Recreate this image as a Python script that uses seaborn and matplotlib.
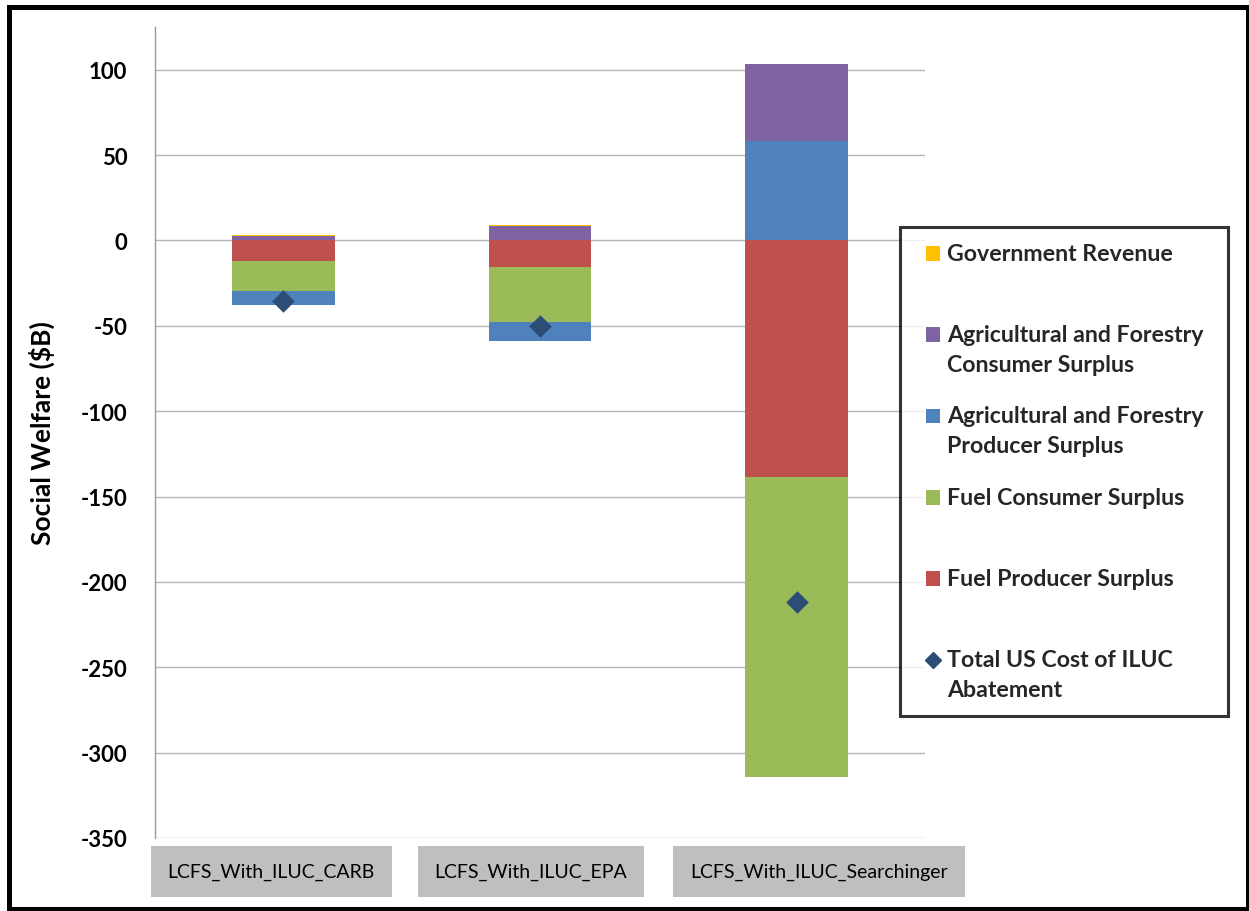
import numpy as np
import pandas as pd
import matplotlib
matplotlib.use("Agg")
import matplotlib.pyplot as plt
import seaborn as sns
from matplotlib.patches import Patch, Rectangle
from matplotlib.lines import Line2D
from matplotlib.artist import Artist
from matplotlib.transforms import ScaledTranslation

# ---------------- data ----------------
scenarios = ["LCFS_With_ILUC_CARB", "LCFS_With_ILUC_EPA", "LCFS_With_ILUC_Searchinger"]
fuel_producer_surplus = [-12.3, -15.7, -138.6]
fuel_consumer_surplus = [-17.6, -32.2, -175.8]
ag_forestry_producer_surplus = [-8.2, -11.2, 58.0]
ag_forestry_consumer_surplus = [2.8, 8.3, 45.1]
government_revenue = [0.6, 0.9, 0.4]
total_us_cost_iluc = [-35.3, -50.3, -211.6]

series_labels = [
    "Fuel Producer Surplus",
    "Fuel Consumer Surplus",
    "Agricultural and Forestry\nProducer Surplus",
    "Agricultural and Forestry\nConsumer Surplus",
    "Government Revenue",
]
series_values = [
    fuel_producer_surplus,
    fuel_consumer_surplus,
    ag_forestry_producer_surplus,
    ag_forestry_consumer_surplus,
    government_revenue,
]
total_label = "Total US Cost of ILUC\nAbatement"
y_ticks = [-350, -300, -250, -200, -150, -100, -50, 0, 50, 100]

# ---------------- style ----------------
colors = ["#C0504D", "#9BBB59", "#4F81BD", "#8064A2", "#FFC000"]
diamond_color = "#2C4D75"

sns.set_style("white")
plt.rcParams["font.family"] = ["Lato", "DejaVu Sans"]

W, H, DPI = 1249, 912, 100
fig = plt.figure(figsize=(W / DPI, H / DPI), dpi=DPI)
ax = fig.add_axes([155 / W, 1 - 839 / H, 770 / W, (839 - 28) / H])

pos = np.zeros(len(scenarios))
neg = np.zeros(len(scenarios))
for lab, vals, col in zip(series_labels, series_values, colors):
    v = np.asarray(vals, dtype=float)
    bottom = np.where(v >= 0, pos, neg)
    df = pd.DataFrame({"scenario": scenarios, "value": v})
    sns.barplot(data=df, x="scenario", y="value", order=scenarios, bottom=bottom,
                color=col, saturation=1, width=0.4, errorbar=None,
                linewidth=0, edgecolor="none", ax=ax, zorder=3)
    pos += np.where(v >= 0, v, 0)
    neg += np.where(v < 0, v, 0)

sns.stripplot(x=scenarios, y=total_us_cost_iluc, order=scenarios, jitter=False,
              marker="D", size=11.5, color=diamond_color, linewidth=0,
              ax=ax, zorder=5)

ax.set_xlim(-0.5, 2.5)
ax.set_ylim(-350, 125)
ax.set_yticks(y_ticks)
ax.set_yticklabels([str(t) for t in y_ticks])
ax.grid(axis="y", color="#b4b4b4", linewidth=1.0, zorder=0)
ax.grid(axis="x", visible=False)
ax.set_axisbelow(True)
for s in ["top", "right", "bottom"]:
    ax.spines[s].set_visible(False)
ax.spines["left"].set_color("#9a9a9a")
ax.spines["left"].set_linewidth(1.0)

ax.tick_params(axis="y", length=6.5, width=1, color="#9a9a9a", pad=13.5,
               labelsize=16, labelcolor="black")
for t in ax.get_yticklabels():
    t.set_fontweight("bold")

ax.set_xlabel("")
ax.set_ylabel("Social Welfare ($B)", fontsize=19, fontweight="bold", color="black")
ax.yaxis.set_label_coords(-0.130, 0.5)

# x tick labels in grey boxes
ax.set_xticks(range(len(scenarios)))
ax.set_xticklabels(scenarios)
ax.tick_params(axis="x", length=0, pad=18, labelsize=14, labelcolor="black")
label_shift_px = [-12, -9, 22]
for t, dx in zip(ax.get_xticklabels(), label_shift_px):
    t.set_bbox(dict(boxstyle="square,pad=0.88", facecolor="#BFBFBF", edgecolor="none"))
    t.set_transform(t.get_transform() + ScaledTranslation(dx / DPI, 0, fig.dpi_scale_trans))

# legend
handles = [Patch(facecolor=c, edgecolor="none") for c in colors[::-1]]
labels = [l if "\n" in l else l + "\n " for l in series_labels[::-1]]
handles.append(Line2D([], [], linestyle="none", marker="D", markersize=8.5,
                      markerfacecolor=diamond_color, markeredgecolor=diamond_color))
labels.append(total_label)

leg = fig.legend(handles, labels, loc="upper left",
                 bbox_to_anchor=(900 / W, 1 - 228 / H, 328 / W, 0.0001),
                 mode="expand", borderaxespad=0,
                 frameon=True, fancybox=False, edgecolor="black",
                 prop={"family": "Lato", "weight": "bold", "size": 16.7},
                 handlelength=0.6, handleheight=0.6, handletextpad=0.74,
                 borderpad=0.68, labelspacing=1.33)
leg.get_frame().set_linewidth(2.2)
for t in leg.get_texts():
    t.set_linespacing(1.5)
fig.canvas.draw()
for h in leg.legend_handles:
    base = Artist.get_transform(h)
    h.set_transform(base + ScaledTranslation(10 / DPI, 15 / DPI, fig.dpi_scale_trans))

# outer border of the chart area
fig.add_artist(Rectangle((8.5 / W, 1 - 909.5 / H), 1239 / W, 902 / H,
                         transform=fig.transFigure, fill=False,
                         edgecolor="black", linewidth=3.6, zorder=10))

fig.savefig("out.png", dpi=DPI)
